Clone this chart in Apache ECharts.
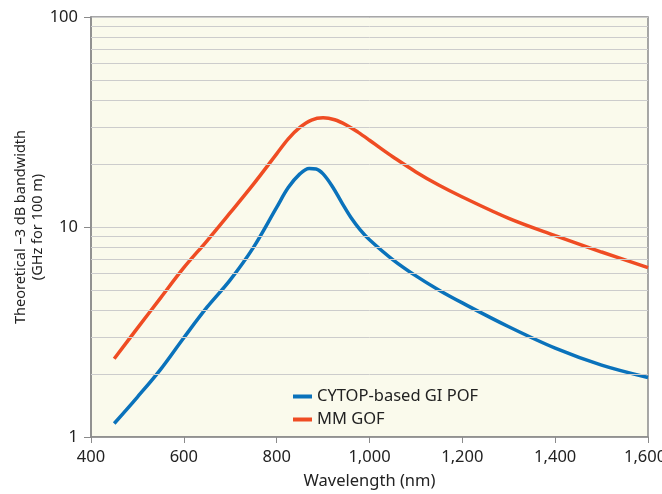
<!DOCTYPE html>
<html>
<head>
<meta charset="utf-8">
<script src="https://cdn.jsdelivr.net/npm/echarts@6/dist/echarts.min.js"></script>
<style>
  html, body { margin: 0; padding: 0; background: #fff; }
  #chart { width: 662px; height: 494px; }
</style>
</head>
<body>
<div id="chart"></div>
<script>
// wavelength (nm) -> bandwidth (GHz for 100 m)
var gofWave = [450, 500, 550, 600, 650, 700, 750, 800, 825, 850, 875, 900, 925, 950, 975, 1000, 1025, 1050, 1100, 1150, 1200, 1300, 1400, 1500, 1600];
var gofBw   = [2.36, 3.3, 4.6, 6.4, 8.6, 11.7, 16.0, 22.3, 26.3, 29.8, 32.3, 33.1, 32.4, 30.6, 28.3, 25.9, 23.6, 21.6, 18.3, 15.8, 13.9, 11.0, 9.1, 7.6, 6.4];

var pofWave = [450, 500, 550, 600, 650, 700, 750, 800, 825, 850, 870, 885, 900, 920, 940, 960, 980, 1000, 1050, 1100, 1150, 1200, 1300, 1400, 1500, 1600];
var pofBw   = [1.16, 1.55, 2.1, 2.97, 4.15, 5.6, 8.0, 12.4, 15.4, 17.9, 19.0, 18.9, 17.9, 15.6, 13.1, 11.1, 9.7, 8.7, 7.0, 5.85, 5.0, 4.35, 3.35, 2.65, 2.2, 1.92];

var minorGrid = [2, 3, 4, 5, 6, 7, 8, 9, 20, 30, 40, 50, 60, 70, 80, 90];

var seriesNames = ['CYTOP-based GI POF', 'MM GOF'];

function pairs(xs, ys) {
    var out = [];
    for (var i = 0; i < xs.length; i++) out.push([xs[i], ys[i]]);
    return out;
}

var chart = echarts.init(document.getElementById('chart'));
var font = 'Noto Sans';

var option = {
    animation: false,
    textStyle: { fontFamily: font },
    grid: {
        left: 91, right: 14, top: 17, bottom: 57,
        outerBoundsMode: 'none',
        containLabel: false,
        show: true,
        backgroundColor: '#fafaec',
        borderColor: '#8a8a8a',
        borderWidth: 1.5
    },
    legend: {
        data: seriesNames,
        orient: 'vertical',
        left: 288, top: 383,
        itemGap: 6,
        itemWidth: 19, itemHeight: 4,
        icon: 'rect',
        textStyle: { fontFamily: font, fontSize: 16.5, color: '#222' }
    },
    xAxis: {
        type: 'value',
        min: 400, max: 1600, interval: 200,
        name: 'Wavelength (nm)',
        nameLocation: 'middle',
        nameGap: 36,
        nameMoveOverlap: false,
        nameTextStyle: { fontFamily: font, fontSize: 16.5, color: '#222' },
        axisLine: { lineStyle: { color: '#8a8a8a', width: 1.5 } },
        axisTick: { show: true, length: 6, lineStyle: { color: '#8a8a8a' } },
        axisLabel: {
            fontSize: 16.5, color: '#222', margin: 12,
            formatter: function (v) {
                var s = v.toLocaleString('en-US');
                // last label: wider box, text left in it, so it stays on the page
                return v === 1600 ? '{last|' + s + '}' : s;
            },
            rich: {
                last: { fontSize: 16.5, color: '#222', width: 48, align: 'left' }
            }
        },
        splitLine: { show: false }
    },
    yAxis: {
        type: 'log',
        logBase: 10,
        min: 1, max: 100,
        name: 'Theoretical \u20133 dB bandwidth\n(GHz for 100 m)',
        nameLocation: 'middle',
        nameGap: 45,
        nameMoveOverlap: false,
        nameTextStyle: { fontFamily: font, fontSize: 14.5, color: '#222', lineHeight: 17 },
        axisLine: { show: true, lineStyle: { color: '#8a8a8a', width: 1.5 } },
        axisTick: { show: true, length: 7, lineStyle: { color: '#8a8a8a' } },
        axisLabel: { fontSize: 16.5, color: '#222', margin: 13 },
        splitLine: { show: true, lineStyle: { color: '#cccccc', width: 1 } }
    },
    series: [
        {
            // minor gridlines, placed with the log scale
            name: 'grid',
            type: 'line',
            data: [],
            silent: true,
            z: 1,
            markLine: {
                silent: true,
                symbol: ['none', 'none'],
                label: { show: false },
                lineStyle: { color: '#cccccc', type: 'solid', width: 1 },
                data: minorGrid.map(function (v) { return { yAxis: v }; })
            }
        },
        {
            name: seriesNames[0],
            type: 'line',
            smooth: 0.35,
            showSymbol: false,
            z: 3,
            itemStyle: { color: '#0a72bb' },
            lineStyle: { color: '#0a72bb', width: 3.5 },
            data: pairs(pofWave, pofBw)
        },
        {
            name: seriesNames[1],
            type: 'line',
            smooth: 0.35,
            showSymbol: false,
            z: 3,
            itemStyle: { color: '#ef4c23' },
            lineStyle: { color: '#ef4c23', width: 3.5 },
            data: pairs(gofWave, gofBw)
        }
    ]
};

chart.setOption(option);
</script>
</body>
</html>
